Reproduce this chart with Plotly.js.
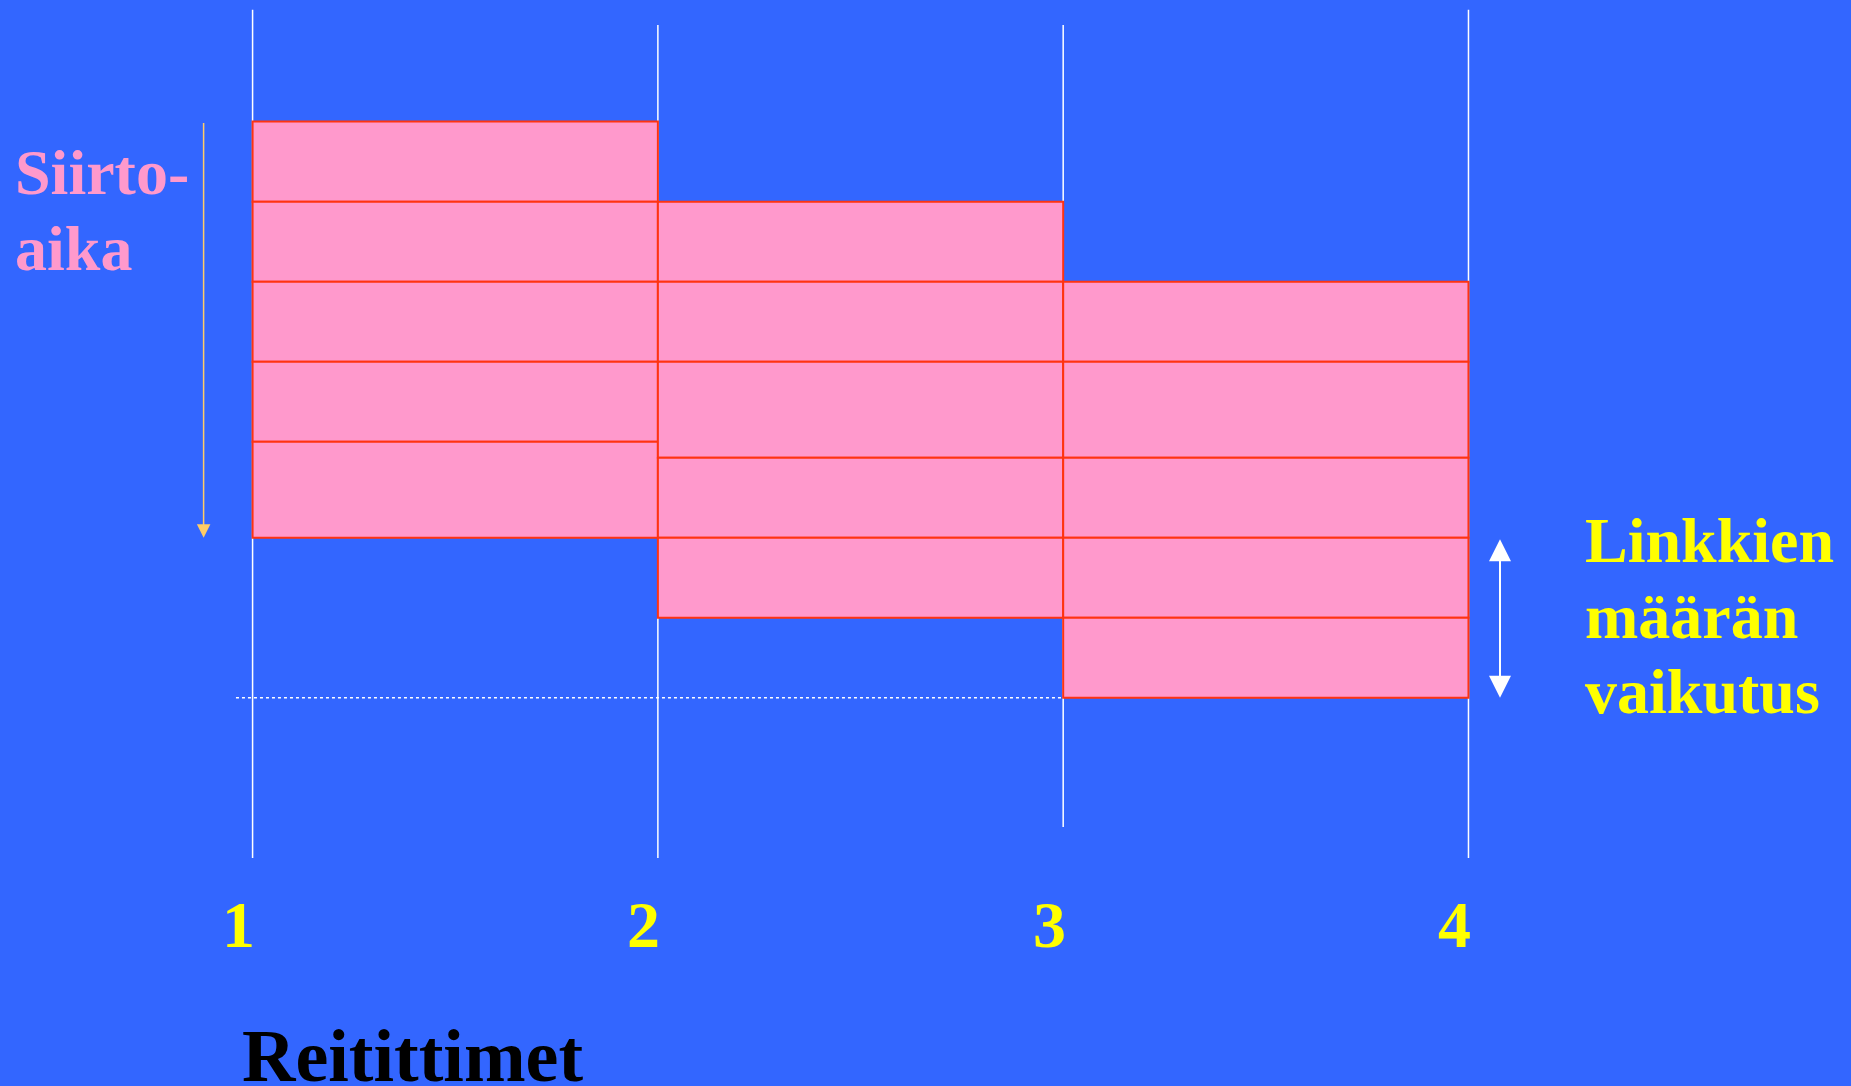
<!DOCTYPE html>
<html>
<head>
<meta charset="utf-8">
<script src="https://cdn.plot.ly/plotly-3.0.1.min.js"></script>
<style>
  html, body { margin: 0; padding: 0; background: #3366FF; }
  #chart { width: 1851px; height: 1086px; }
</style>
</head>
<body>
<div id="chart"></div>
<script>
// ---- data ----
const routers = [1, 2, 3, 4];
const routerLabels = ['1', '2', '3', '4'];
const linkStarts = [0, 1, 2];            // start time of each link (in packet units)
const link1Packets = [1, 1, 1, 1, 1.2];  // transmission time per packet on link 1-2
const link2Packets = [1, 1, 1.2, 1, 1];  // link 2-3
const link3Packets = [1, 1.2, 1, 1, 1];  // link 3-4
const linkPackets = [link1Packets, link2Packets, link3Packets];

// ---- build bar segments ----
const xs = [], bases = [], lens = [], widths = [];
let maxEnd = 0;
linkPackets.forEach((pk, i) => {
  let t = linkStarts[i];
  pk.forEach(d => {
    xs.push((routers[i] + routers[i + 1]) / 2);
    widths.push(routers[i + 1] - routers[i]);
    bases.push(t);
    lens.push(d);
    t += d;
  });
  if (t > maxEnd) maxEnd = t;
});
const firstEnd = linkStarts[0] + link1Packets.reduce((a, b) => a + b, 0);

const trace = {
  type: 'bar',
  x: xs, y: lens, base: bases, width: widths,
  marker: { color: '#FF99CC', line: { color: '#FF3311', width: 2 } },
  hoverinfo: 'skip', showlegend: false
};

const W = 1851, H = 1086;
const serif = '"Liberation Serif", "Times New Roman", serif';

const shapes = [];
const lineTops = [0.991, 0.977, 0.977, 0.991];
const lineBottoms = [0.21, 0.21, 0.2385, 0.21];
routers.forEach((r, i) => {
  shapes.push({ type: 'line', layer: 'below', xref: 'x', yref: 'paper',
    x0: r, x1: r, y0: lineBottoms[i], y1: lineTops[i],
    line: { color: '#FFFFFF', width: 1.5 } });
});
// dotted reference line at the end of the last packet
shapes.push({ type: 'line', layer: 'above', xref: 'x', yref: 'y',
  x0: 0.959, x1: routers[2], y0: maxEnd, y1: maxEnd,
  line: { color: '#FFFFFF', width: 1.5, dash: 'dot' } });

const annotations = [];
function txt(text, x, y, color, size, xanchor) {
  annotations.push({ text: '<b>' + text + '</b>', xref: 'paper', yref: 'paper',
    x: x, y: y, xanchor: xanchor || 'left', yanchor: 'bottom', showarrow: false,
    font: { family: serif, size: size, color: color } });
}
txt('Siirto-', 0.0070, 0.8068, '#FF99CC', 64);
txt('aika', 0.0070, 0.7368, '#FF99CC', 64);
txt('Linkkien', 0.8552, 0.4680, '#FFFF00', 64);
txt('määrän', 0.8552, 0.3980, '#FFFF00', 64);
txt('vaikutus', 0.8552, 0.3289, '#FFFF00', 64);
txt('Reitittimet', 0.1297, -0.012, '#000000', 74);

routers.forEach((r, i) => {
  annotations.push({ text: '<b>' + routerLabels[i] + '</b>', xref: 'x', yref: 'paper',
    x: r, xshift: -14, y: 0.1137, xanchor: 'center', yanchor: 'bottom', showarrow: false,
    font: { family: serif, size: 66, color: '#FFFF00' } });
});

// time arrow (left)
annotations.push({ text: '', xref: 'paper', yref: 'y', x: 203.6 / W, y: firstEnd,
  axref: 'pixel', ayref: 'y', ax: 0, ay: linkStarts[0],
  showarrow: true, arrowhead: 2, arrowsize: 1.8, arrowwidth: 1.5,
  arrowcolor: '#FFCC66', standoff: 0, startstandoff: 0 });
// double arrow (right)
annotations.push({ text: '', xref: 'paper', yref: 'y', x: 1500 / W, y: maxEnd,
  axref: 'pixel', ayref: 'y', ax: 0, ay: firstEnd,
  showarrow: true, arrowhead: 2, startarrowhead: 2, arrowside: 'end+start',
  arrowsize: 2.2, startarrowsize: 2.2, arrowwidth: 2,
  arrowcolor: '#FFFFFF', standoff: 0, startstandoff: 0 });

const layout = {
  width: W, height: H,
  margin: { l: 0, r: 0, t: 0, b: 0, pad: 0 },
  paper_bgcolor: '#3366FF', plot_bgcolor: '#3366FF',
  xaxis: { range: [0.3768, 4.9438], visible: false, fixedrange: true },
  yaxis: { range: [12.053, -1.520], visible: false, fixedrange: true },
  bargap: 0, barmode: 'overlay',
  shapes: shapes, annotations: annotations, showlegend: false
};

Plotly.newPlot('chart', [trace], layout, { staticPlot: true, displayModeBar: false });
</script>
</body>
</html>
